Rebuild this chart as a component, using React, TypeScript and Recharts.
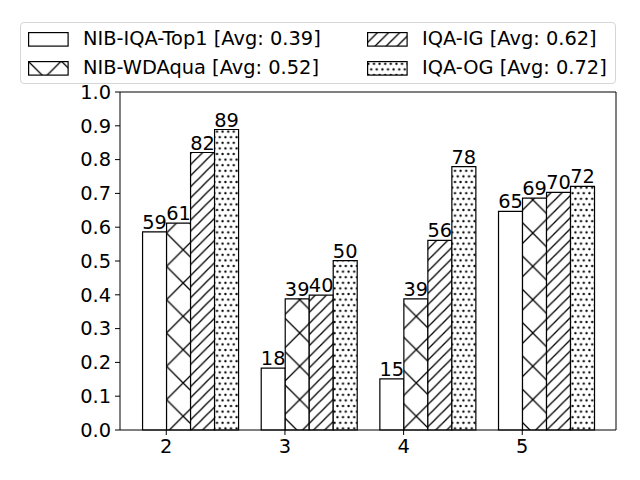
import React from 'react';
import { BarChart, Bar, XAxis, YAxis, LabelList, ReferenceLine } from 'recharts';

const groups = [2, 3, 4, 5];
const top1 = [0.586, 0.183, 0.151, 0.647];
const wdaqua = [0.612, 0.388, 0.388, 0.686];
const iqaIg = [0.821, 0.399, 0.561, 0.703];
const iqaOg = [0.889, 0.501, 0.779, 0.721];
const seriesNames = [
  'NIB-IQA-Top1 [Avg: 0.39]',
  'NIB-WDAqua [Avg: 0.52]',
  'IQA-IG [Avg: 0.62]',
  'IQA-OG [Avg: 0.72]',
];
const yTicks = [0, 0.1, 0.2, 0.3, 0.4, 0.5, 0.6, 0.7, 0.8, 0.9, 1.0];

const data = groups.map((g, i) => ({
  group: g,
  top1: top1[i],
  wdaqua: wdaqua[i],
  ig: iqaIg[i],
  og: iqaOg[i],
}));

const series = [
  { key: 'top1', name: seriesNames[0], fill: '#fff' },
  { key: 'wdaqua', name: seriesNames[1], fill: 'url(#hatch-x)' },
  { key: 'ig', name: seriesNames[2], fill: 'url(#hatch-diag)' },
  { key: 'og', name: seriesNames[3], fill: 'url(#hatch-dots)' },
];

const FONT = 'DejaVu Sans, sans-serif';
const FS = 19.4;
const X_DOMAIN: [number, number] = [1.61, 5.79];

// matplotlib-like hatches: 'x', '///', '..'
const Patterns = () => (
  <defs>
    <pattern id="hatch-x" patternUnits="userSpaceOnUse" width="33.3" height="33.3">
      <rect width="33.3" height="33.3" fill="#fff" />
      <path d="M0,0 L33.3,33.3 M0,33.3 L33.3,0" stroke="#000" strokeWidth="1.3" />
    </pattern>
    <pattern id="hatch-diag" patternUnits="userSpaceOnUse" width="11.1" height="11.1">
      <rect width="11.1" height="11.1" fill="#fff" />
      <path d="M0,11.1 L11.1,0 M-1,1 L1,-1 M10.1,12.1 L12.1,10.1" stroke="#000" strokeWidth="1.3" />
    </pattern>
    <pattern id="hatch-dots" patternUnits="userSpaceOnUse" width="5.6" height="11.2">
      <rect width="5.6" height="11.2" fill="#fff" />
      <circle cx="1.4" cy="2.8" r="1.15" fill="#000" />
      <circle cx="4.2" cy="8.4" r="1.15" fill="#000" />
    </pattern>
  </defs>
);

const legendPos = [
  { left: 7, top: 9 },
  { left: 7, top: 38 },
  { left: 346, top: 9 },
  { left: 346, top: 38 },
];

const LegendBox = () => (
  <div
    style={{
      position: 'absolute',
      left: 20,
      top: 22,
      width: 596,
      height: 62,
      boxSizing: 'border-box',
      border: '1px solid #d6d6d6',
      borderRadius: 4,
      background: '#fff',
    }}
  >
    {series.map((s, i) => (
      <div key={s.key} style={{ position: 'absolute', left: legendPos[i].left, top: legendPos[i].top, display: 'flex', alignItems: 'center', height: 14 }}>
        <svg width={41} height={15} style={{ display: 'block' }}>
          <rect x={0.6} y={0.6} width={39.5} height={13.5} fill={s.fill} stroke="#000" strokeWidth={1.2} />
        </svg>
        <span style={{ marginLeft: 14, fontSize: FS, fontFamily: FONT, color: '#000', whiteSpace: 'nowrap', lineHeight: '14px' }}>
          {s.name}
        </span>
      </div>
    ))}
  </div>
);

export default function App() {
  return (
    <div style={{ position: 'absolute', left: 0, top: 0, width: 640, height: 480, background: '#fff', fontFamily: FONT }}>
      <BarChart
        width={640}
        height={480}
        data={data}
        margin={{ top: 92, right: 24, left: 0, bottom: 0 }}
        barCategoryGap="10%"
        barGap={0}
      >
        <Patterns />
        <XAxis xAxisId="cat" dataKey="group" type="category" hide height={0} padding={{ left: 10.7, right: 10.7 }} />
        <XAxis
          xAxisId="num"
          dataKey="group"
          type="number"
          domain={X_DOMAIN}
          ticks={groups}
          allowDataOverflow
          height={50}
          stroke="#000"
          tickSize={5}
          tickMargin={4}
          tick={{ fill: '#000', fontSize: FS, fontFamily: FONT }}
        />
        <YAxis
          domain={[0, 1]}
          ticks={yTicks}
          width={120}
          stroke="#000"
          tickSize={5}
          tickMargin={4}
          tickFormatter={(v: number) => v.toFixed(1)}
          tick={{ fill: '#000', fontSize: FS, fontFamily: FONT }}
        />
        <ReferenceLine xAxisId="num" y={1} stroke="#000" ifOverflow="extendDomain" />
        <ReferenceLine xAxisId="num" x={X_DOMAIN[1]} stroke="#000" ifOverflow="extendDomain" />
        {series.map((s) => (
          <Bar
            key={s.key}
            xAxisId="cat"
            dataKey={s.key}
            name={s.name}
            fill={s.fill}
            stroke="#000"
            strokeWidth={1.2}
            isAnimationActive={false}
          >
            <LabelList
              dataKey={s.key}
              position="top"
              offset={3}
              formatter={(v: number) => Math.round(v * 100)}
              style={{ fill: '#000', fontSize: FS, fontFamily: FONT }}
            />
          </Bar>
        ))}
      </BarChart>
      <LegendBox />
    </div>
  );
}
